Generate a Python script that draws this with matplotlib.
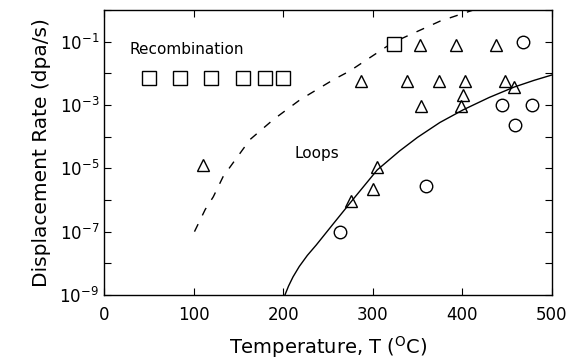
# Displacement rate vs temperature: recombination / loops regimes.

import numpy as np
import matplotlib.pyplot as plt
from matplotlib.ticker import FixedLocator, FuncFormatter

# --------------------------- DATA ---------------------------

# Square symbols (temperature [C], displacement rate [dpa/s]).
sq_T = [50, 85, 120, 155, 180, 200, 324]
sq_rate = [7e-3, 7e-3, 7e-3, 7e-3, 7e-3, 7e-3, 8.5e-2]

# Triangle symbols.
tri_T = [110, 276, 300, 305, 287, 338, 353, 393, 438, 374, 403, 448, 458, 401, 354, 399]
tri_rate = [1.3e-5, 9e-7, 2.2e-6, 1.1e-5, 5.9e-3, 5.9e-3, 8.1e-2, 8.1e-2, 8.1e-2,
            5.9e-3, 5.9e-3, 5.9e-3, 3.7e-3, 2.1e-3, 9.1e-4, 9.5e-4]

# Circle symbols.
cir_T = [264, 360, 444, 478, 459, 468]
cir_rate = [9.5e-8, 2.8e-6, 1.0e-3, 1.0e-3, 2.3e-4, 9.5e-2]

# Dashed boundary (recombination).
dash_T = [101, 113, 122, 133, 144, 163, 189, 219, 256, 274, 322, 375, 412]
dash_log = [-7.0, -6.3, -5.9, -5.26, -4.83, -4.09, -3.46, -2.83, -2.2, -1.93, -1.03, -0.35, 0.0]

# Solid boundary (loops).
solid_T = [202, 206, 211, 218, 227, 237, 256, 276, 305, 330, 350, 375, 401, 430, 458, 480, 500]
solid_log = [-9.0, -8.72, -8.43, -8.1, -7.75, -7.42, -6.75, -6.05, -5.05, -4.45, -4.02,
             -3.55, -3.15, -2.76, -2.43, -2.22, -2.05]

# --------------------------- PLOT ---------------------------

plt.rcParams['font.family'] = 'DejaVu Sans'

fig = plt.figure(figsize=(5.67, 3.61), dpi=100)
ax = fig.add_axes([0.1834, 0.183, 0.79, 0.789])

ax.plot(dash_T, 10.0 ** np.array(dash_log), color='black', lw=1.0, ls=(0, (6, 7)))
ax.plot(solid_T, 10.0 ** np.array(solid_log), color='black', lw=1.0)

ax.plot(sq_T, sq_rate, ls='none', marker='s', ms=9.5, mfc='white', mec='black', mew=1.0)
ax.plot(tri_T, tri_rate, ls='none', marker='^', ms=9, mfc='none', mec='black', mew=1.0)
ax.plot(cir_T, cir_rate, ls='none', marker='o', ms=9, mfc='none', mec='black', mew=1.0)

ax.text(29, 10 ** -1.25, 'Recombination', fontsize=11, va='center')
ax.text(213, 10 ** -4.54, 'Loops', fontsize=11, va='center')

ax.set_yscale('log')
ax.set_xlim(0, 500)
ax.set_ylim(1e-9, 1e0)

ax.xaxis.set_major_locator(FixedLocator([0, 100, 200, 300, 400, 500]))
ax.yaxis.set_major_locator(FixedLocator([10.0 ** k for k in range(-9, 1)]))
ax.yaxis.set_minor_locator(FixedLocator([]))
ax.yaxis.set_major_formatter(FuncFormatter(
    lambda v, p: r'$10^{%d}$' % round(np.log10(v)) if round(np.log10(v)) % 2 else ''))

ax.tick_params(direction='in', top=True, right=True, length=5, width=0.8, labelsize=12)
ax.tick_params(axis='x', pad=8)
for s in ax.spines.values():
    s.set_linewidth(1.0)

ax.set_xlabel(r'Temperature, T ($^{\rm O}$C)', fontsize=14, labelpad=7)
ax.set_ylabel('Displacement Rate (dpa/s)', fontsize=14.5, labelpad=6)

fig.savefig('out.png', dpi=100)
